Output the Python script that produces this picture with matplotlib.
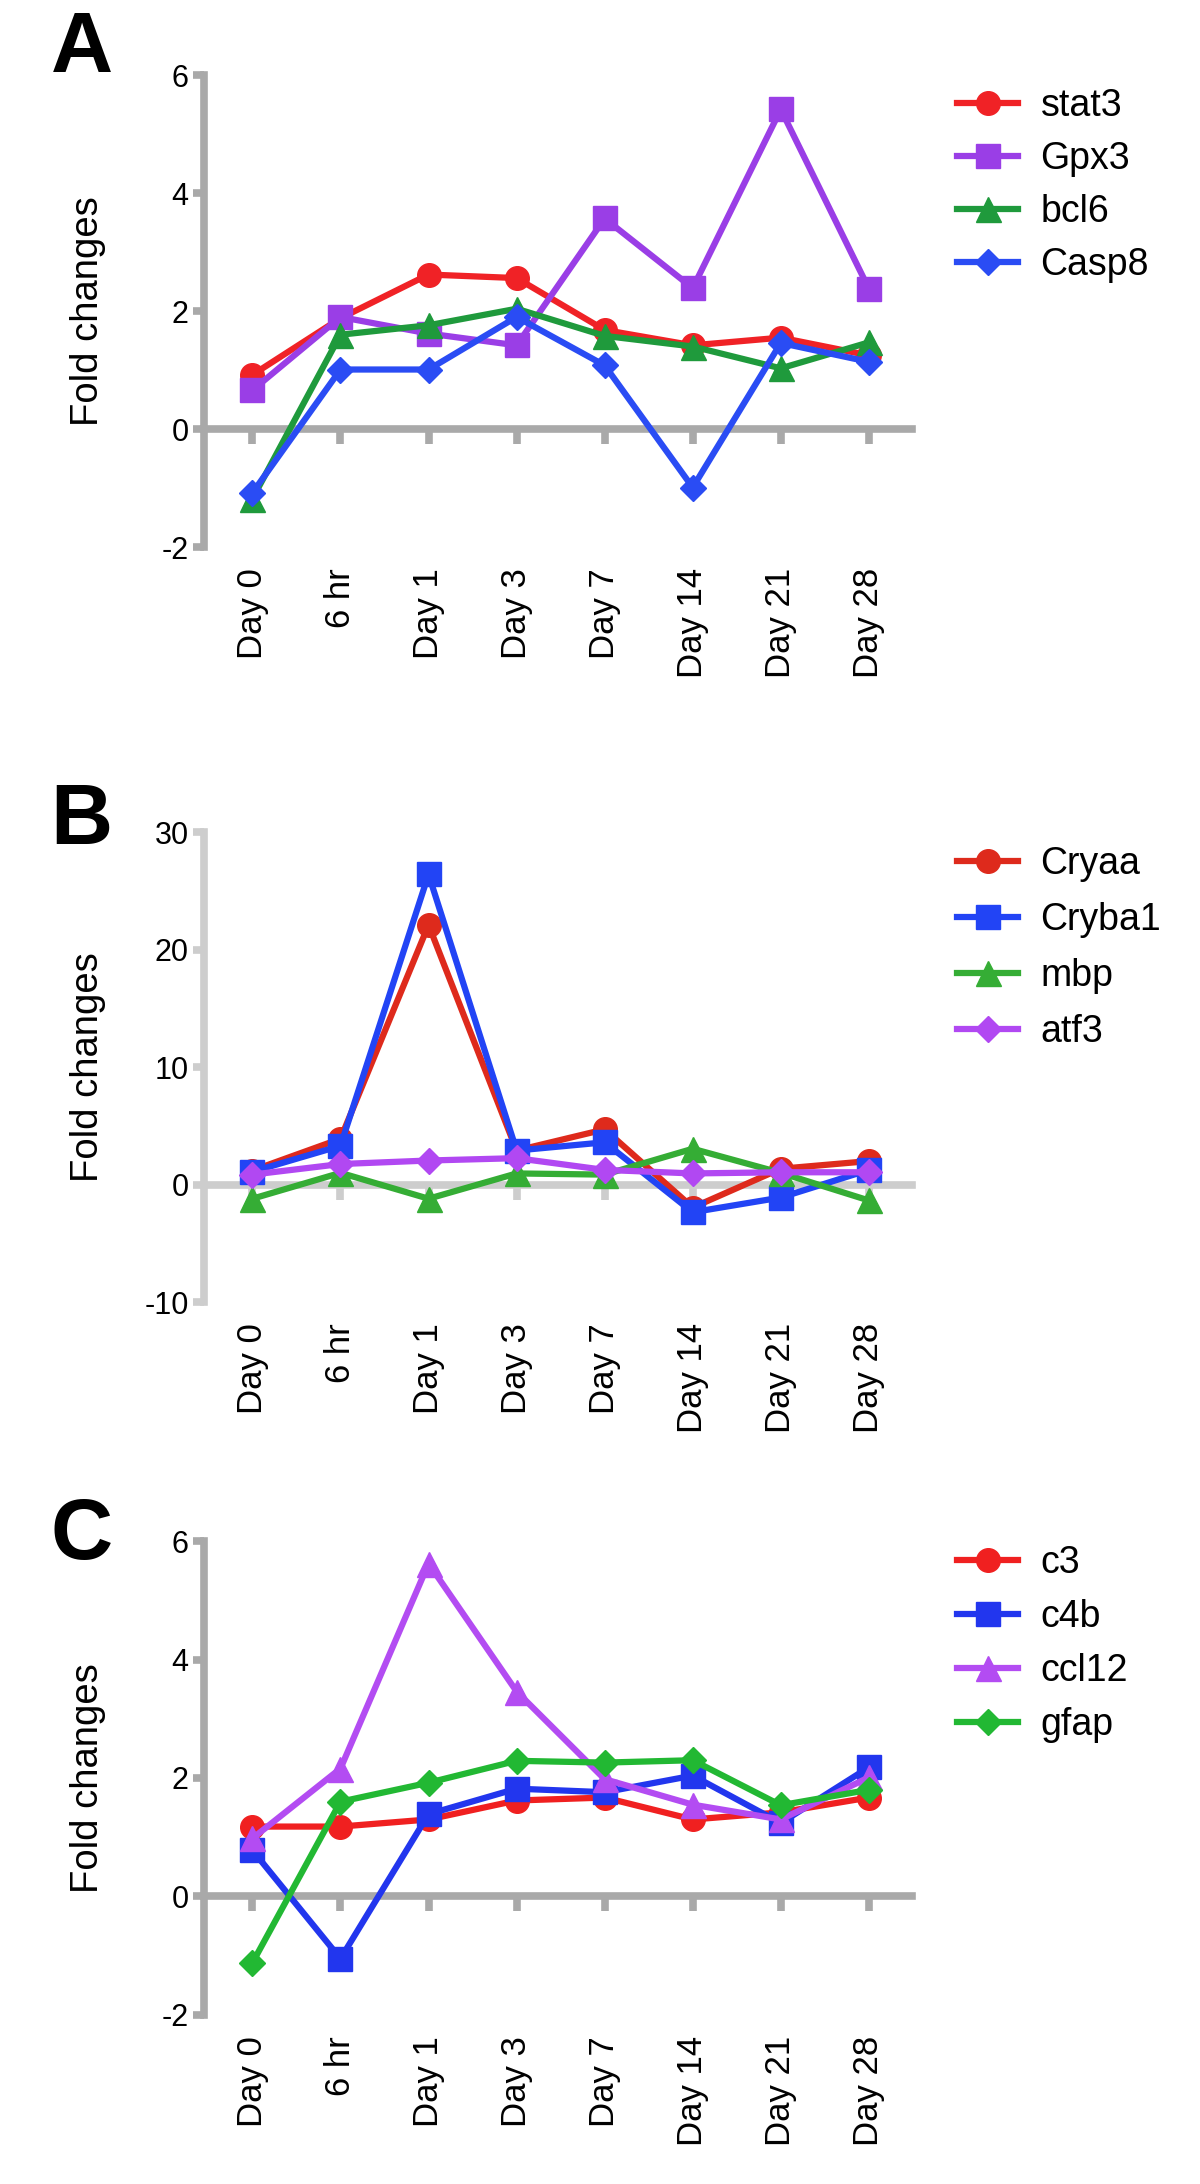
import numpy as np
import matplotlib
matplotlib.use("Agg")
import matplotlib.pyplot as plt

plt.rcParams['font.family'] = ['Liberation Sans', 'DejaVu Sans']
plt.rcParams['axes.unicode_minus'] = False

# time points, shared by all three panels
days = ["Day 0", "6 hr", "Day 1", "Day 3", "Day 7", "Day 14", "Day 21", "Day 28"]

# panel A
genes_a = ["stat3", "Gpx3", "bcl6", "Casp8"]
stat3 = [0.92, 1.88, 2.62, 2.56, 1.68, 1.42, 1.55, 1.25]
gpx3 = [0.66, 1.90, 1.62, 1.42, 3.57, 2.39, 5.42, 2.38]
bcl6 = [-1.18, 1.60, 1.76, 2.04, 1.58, 1.40, 1.03, 1.47]
casp8 = [-1.08, 1.01, 1.01, 1.90, 1.08, -0.99, 1.46, 1.14]

# panel B
genes_b = ["Cryaa", "Cryba1", "mbp", "atf3"]
cryaa = [1.2, 3.9, 22.1, 2.9, 4.7, -1.95, 1.35, 2.0]
cryba1 = [1.1, 3.3, 26.4, 2.9, 3.6, -2.35, -1.1, 1.25]
mbp = [-1.2, 1.0, -1.2, 0.95, 0.85, 3.05, 1.0, -1.35]
atf3 = [0.85, 1.75, 2.05, 2.25, 1.25, 0.95, 1.05, 1.05]

# panel C
genes_c = ["c3", "c4b", "ccl12", "gfap"]
c3 = [1.18, 1.18, 1.30, 1.62, 1.67, 1.30, 1.42, 1.67]
c4b = [0.78, -1.05, 1.39, 1.82, 1.76, 2.04, 1.24, 2.18]
ccl12 = [0.98, 2.16, 5.62, 3.46, 1.98, 1.55, 1.30, 2.01]
gfap = [-1.12, 1.60, 1.92, 2.29, 2.26, 2.30, 1.54, 1.80]

panels = [
    dict(letter="A", genes=genes_a, series=[stat3, gpx3, bcl6, casp8],
         colors=["#f02226", "#9a3ee6", "#1f9a3c", "#2a4cf4"],
         yticks=[-2, 0, 2, 4, 6], axcolor="#a9a9a9",
         rect=[0.17, 0.7495, 0.59, 0.2161], leg_top=88, spacing=0.45, ltop=10),
    dict(letter="B", genes=genes_b, series=[cryaa, cryba1, mbp, atf3],
         colors=["#de2a1c", "#2244f5", "#35ad35", "#b148f2"],
         yticks=[-10, 0, 10, 20, 30], axcolor="#cdcdcd",
         rect=[0.17, 0.4038, 0.59, 0.2152], leg_top=846, spacing=0.53, ltop=782),
    dict(letter="C", genes=genes_c, series=[c3, c4b, ccl12, gfap],
         colors=["#f02020", "#2236ee", "#b34cf2", "#22b833"],
         yticks=[-2, 0, 2, 4, 6], axcolor="#a9a9a9",
         rect=[0.17, 0.0774, 0.59, 0.2170], leg_top=1545, spacing=0.48, ltop=1497),
]
markers = ["o", "s", "^", "D"]
msizes = [17, 17, 18, 13]

H = 2184
fig = plt.figure(figsize=(12, 21.84), dpi=100)
x = np.arange(len(days))

for p in panels:
    ax = fig.add_axes(p["rect"])
    for vals, lab, col, mk, ms in zip(p["series"], p["genes"], p["colors"], markers, msizes):
        ax.plot(x, vals, color=col, marker=mk, markersize=ms, linewidth=4.5,
                label=lab, solid_joinstyle='round', clip_on=False)

    ax.set_xlim(-0.55, 7.49)
    ax.set_ylim(p["yticks"][0], p["yticks"][-1])
    ax.set_yticks(p["yticks"])
    for side in ["top", "right"]:
        ax.spines[side].set_visible(False)
    ax.spines["bottom"].set_position(("data", 0))
    for side in ["left", "bottom"]:
        ax.spines[side].set_color(p["axcolor"])
        ax.spines[side].set_linewidth(5.5)
        ax.spines[side].set_zorder(0.5)
    ax.tick_params(axis="y", length=8, width=5.5, color=p["axcolor"], pad=3,
                   labelsize=22)
    ax.set_xticks(x)
    ax.tick_params(axis="x", length=11, width=5.5, color=p["axcolor"],
                   labelbottom=False)

    # day labels sit under the axes, not under the zero line
    sec = ax.secondary_xaxis("bottom")
    sec.set_xticks(x, labels=days, rotation=90)
    sec.tick_params(length=0, pad=15, labelsize=25)
    sec.spines["bottom"].set_visible(False)

    ax.set_ylabel("Fold changes", fontsize=27.5)
    ax.yaxis.set_label_coords(-0.138, 0.5)

    ax.legend(loc="upper left", bbox_to_anchor=(0.7975, 1 - p["leg_top"] / H),
              bbox_transform=fig.transFigure, frameon=False, fontsize=27,
              handlelength=1.63, handletextpad=0.6, labelspacing=p["spacing"],
              borderpad=0, borderaxespad=0, numpoints=1)

    fig.text(0.042, 1 - p["ltop"] / H, p["letter"], fontsize=62,
             fontweight="bold", ha="left", va="top")

fig.savefig("out.png", dpi=100)
